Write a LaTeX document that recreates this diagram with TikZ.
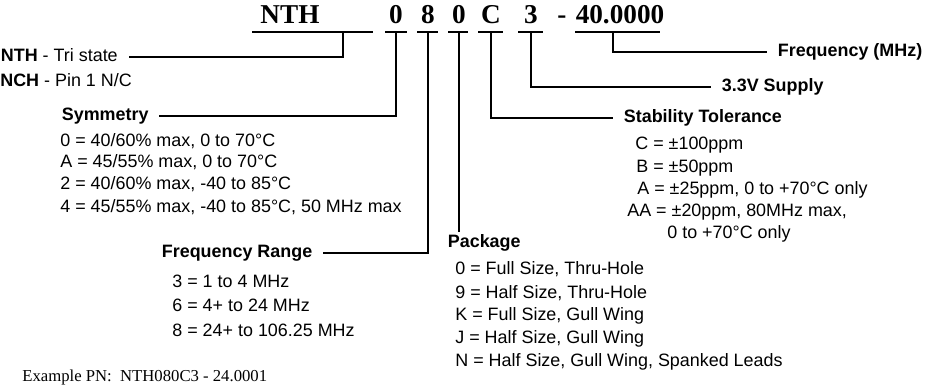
\documentclass[tikz,border=0pt]{standalone}
\usepackage{fontspec}
\setmainfont{Liberation Sans}
\newfontfamily\codefont{Liberation Serif}
\usetikzlibrary{positioning}

\tikzset{
  code/.style={font=\codefont\bfseries\fontsize{15.5}{18}\selectfont,
    inner xsep=0pt, inner ysep=5pt, text depth=0pt, anchor=base},
  head/.style={font=\bfseries\fontsize{10.2}{12}\selectfont,
    inner xsep=6pt, inner ysep=1pt, text height=7.4pt, text depth=2.2pt, anchor=west},
  item/.style={font=\fontsize{10.2}{12}\selectfont, inner sep=0pt, anchor=west},
  lead/.style={line width=0.8pt},
}

\begin{document}
\begin{tikzpicture}[x=0.02cm,y=-0.02cm]
  \useasboundingbox (0,0) rectangle (940,386);

  % part number
  \node[code] (cNTH) at (290,23) {NTH};
  \node[code] (cSym) at (396,23) {0};
  \node[code] (cRng) at (428,23) {8};
  \node[code] (cPkg) at (459,23) {0};
  \node[code] (cStb) at (491,23) {C};
  \node[code] (cSup) at (531,23) {3};
  \node[code] (cDash) at (562,23) {-};
  \node[code] (cFrq) at (620,23) {40.0000};
  \draw[lead] (252,32) -- (373,32);
  \draw[lead] (385,32) -- (407,32);
  \draw[lead] (417,32) -- (438,32);
  \draw[lead] (448,32) -- (468,32);
  \draw[lead] (478,32) -- (503,32);
  \draw[lead] (518,32) -- (543,32);
  \draw[lead] (575,32) -- (660,32);
  \coordinate (tNTH) at (343,32);
  \coordinate (tFrq) at (613,32);

  % left side
  \node[head] (hNTH) at (-10,57) {NTH \mdseries- Tri state};
  \node[item] (hNCH) at (0,80) {\textbf{NCH} - Pin 1 N/C};
  \draw[lead] (tNTH) |- (hNTH.east);

  \node[head] (hSym) at (51,116) {Symmetry};
  \draw[lead] (cSym.south) |- (hSym.east);
  \node[item] (sym1) at (60,141) {0 = 40/60\% max, 0 to 70°C};
  \node[item] (sym2) at (60,162) {A = 45/55\% max, 0 to 70°C};
  \node[item] (sym3) at (60,184) {2 = 40/60\% max, -40 to 85°C};
  \node[item] (sym4) at (60,207) {4 = 45/55\% max, -40 to 85°C, 50 MHz max};

  \node[head] (hRng) at (151,253) {Frequency Range};
  \draw[lead] (cRng.south) |- (hRng.east);
  \node[item] (rng1) at (172,281) {3 = 1 to 4 MHz};
  \node[item] (rng2) at (172,305) {6 = 4+ to 24 MHz};
  \node[item] (rng3) at (172,330) {8 = 24+ to 106.25 MHz};

  % package
  \node[head] (hPkg) at (437,243) {Package};
  \draw[lead] (cPkg.south) -- (cPkg.south |- hPkg.north);
  \node[item] (pkg1) at (455,269) {0 = Full Size, Thru-Hole};
  \node[item] (pkg2) at (455,293) {9 = Half Size, Thru-Hole};
  \node[item] (pkg3) at (455,316) {K = Full Size, Gull Wing};
  \node[item] (pkg4) at (455,339) {J = Half Size, Gull Wing};
  \node[item] (pkg5) at (455,362) {N = Half Size, Gull Wing, Spanked Leads};

  % right side
  \node[head] (hStb) at (613,118) {Stability Tolerance};
  \draw[lead] (cStb.south) |- (hStb.west);
  \node[item] (stb1) at (635,145) {C = ±100ppm};
  \node[item] (stb2) at (636,168) {B = ±50ppm};
  \node[item] (stb3) at (637,190) {A = ±25ppm, 0 to +70°C only};
  \node[item] (stb4) at (627,212) {AA = ±20ppm, 80MHz max,};
  \node[item] (stb5) at (667,234) {0 to +70°C only};

  \node[head] (hSup) at (711,87) {3.3V Supply};
  \draw[lead] (cSup.south) |- (hSup.west);

  \node[head] (hFrq) at (767,52) {Frequency (MHz)};
  \draw[lead] (tFrq) |- (hFrq.west);

  \node[anchor=south west, inner sep=0pt, font=\codefont\fontsize{9.5}{11}\selectfont]
    (expn) at (22,385) {Example PN:\ \ NTH080C3 - 24.0001};
\end{tikzpicture}
\end{document}
